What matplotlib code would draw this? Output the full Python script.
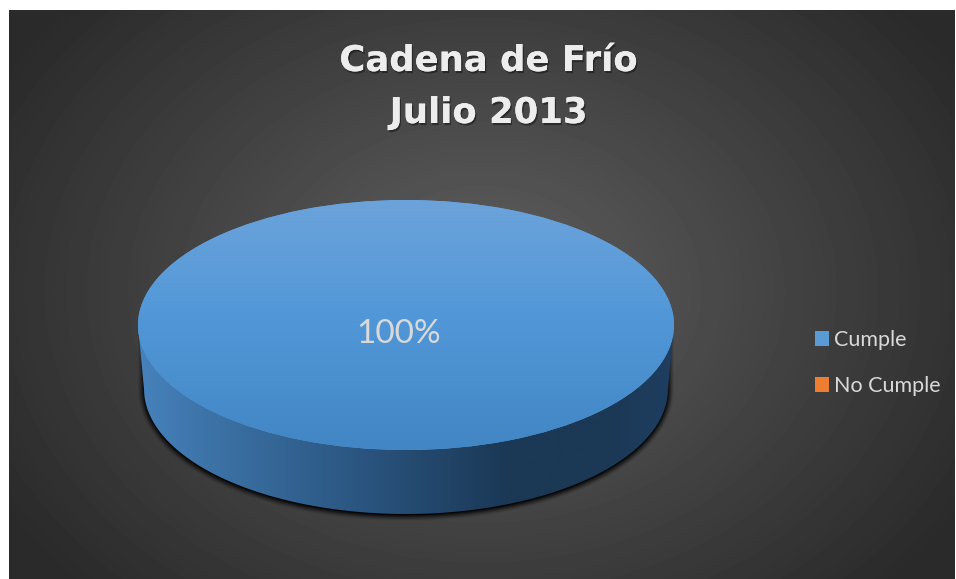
import numpy as np
import matplotlib
matplotlib.use("Agg")
import matplotlib.pyplot as plt
import matplotlib.patheffects as pe
from matplotlib.patches import PathPatch, Patch
from matplotlib.path import Path

categories = ["Cumple", "No Cumple"]
values = [100, 0]
colors = ["#5B9BD5", "#ED7D31"]
title_lines = ["Cadena de Frío", "Julio 2013"]

W, H = 956, 579
CX, CY, RX, RY, DEPTH, RX_LOW = 406, 325, 268, 125, 64, 262
fig = plt.figure(figsize=(W / 100, H / 100), dpi=100, facecolor="white")

# pixel-coordinate canvas
bg = fig.add_axes([0, 0, 1, 1])
bg.axis("off")

# radial dark background
L, T, R, B = 9, 10, 955, 579
yy, xx = np.mgrid[T:B, L:R]
d = np.sqrt(((xx - 482) / 560) ** 2 + ((yy - 290) / 430) ** 2)
g = np.clip(0.375 - 0.21 * np.clip(d, 0, 1), 0, 1)
bg.imshow(g, extent=(L, R, B, T), cmap="gray", vmin=0, vmax=1, aspect="auto", zorder=0,
          interpolation="bilinear")

# disc side outline: straight top edge, lower half of a slightly narrower ellipse
th = np.linspace(np.pi, 0, 181)
ell_x = CX + RX_LOW * np.cos(th)
ell_y = CY + DEPTH + RY * np.sin(th)
side = Path(np.c_[np.r_[CX - RX, ell_x, CX + RX], np.r_[CY, ell_y, CY]])

# soft shadow: a shape tucked under the disc, stroked with widening, faint black
shadow_path = Path(np.c_[np.r_[CX - RX_LOW, ell_x, CX + RX_LOW], np.r_[CY + 12, ell_y + 1, CY + 12]])
for grow, a in zip(np.arange(6, 0, -1), [.06, .1, .14, .2, .28, .38]):
    bg.add_patch(PathPatch(shadow_path, fc="black", ec="black", lw=grow * 1.44, alpha=a, zorder=1,
                           joinstyle="round"))

# side fill with horizontal shading
stops_x = np.array([CX - RX, CX - 200, CX - 60, CX + 100, CX + 200, CX + RX])
stops_c = np.array([[0x46, 0x82, 0xBC], [0x3D, 0x74, 0xA8], [0x2C, 0x58, 0x84],
                    [0x1B, 0x38, 0x56], [0x1B, 0x38, 0x55], [0x1F, 0x3E, 0x60]]) / 255
xs = np.arange(CX - RX, CX + RX + 1)
grad = np.stack([np.interp(xs, stops_x, stops_c[:, i]) for i in range(3)], axis=-1)[None, :, :]
im = bg.imshow(grad, extent=(CX - RX, CX + RX, CY + DEPTH + RY, CY), aspect="auto", zorder=2)
im.set_clip_path(PathPatch(side, transform=bg.transData))
bg.set_xlim(0, W)
bg.set_ylim(H, 0)

# pie axes: stretched so the unit circle fills the disc top
ax = fig.add_axes([(CX - RX) / W, 1 - (CY + RY) / H, 2 * RX / W, 2 * RY / H])
ax.patch.set_alpha(0)
wedges, _ = ax.pie(values, colors=colors, startangle=90, counterclock=False, radius=1,
                   wedgeprops=dict(linewidth=0))
ax.set_aspect("auto")
ax.axis("off")

# vertical sheen over the pie top
vs = np.linspace(0, 1, 128)
top_c = np.array([0x6C, 0xA3, 0xDB]) / 255
mid_c = np.array([0x52, 0x98, 0xD8]) / 255
bot_c = np.array([0x42, 0x86, 0xC4]) / 255
col = np.stack([np.interp(vs, [0, .45, 1], [top_c[i], mid_c[i], bot_c[i]]) for i in range(3)], axis=-1)[:, None, :]
im2 = ax.imshow(col, extent=(-1, 1, -1, 1), aspect="auto", zorder=3, interpolation="bilinear")
im2.set_clip_path(wedges[0])
ax.set_xlim(-1, 1)
ax.set_ylim(-1, 1)

share = values[0] / sum(values) * 100
ax.text(-0.026, -0.07, f"{share:.0f}%", ha="center", va="center", fontsize=24,
        family="Lato", color="#D9D9D9", zorder=5)

# title
shadow = [pe.withSimplePatchShadow(offset=(1, -1.5), shadow_rgbFace="black", alpha=0.4), pe.Normal()]
for line, y in zip(title_lines, [61, 113]):
    fig.text(488.5 / W, 1 - y / H, line, ha="center", va="center", fontsize=25.5, fontweight="bold",
             family="DejaVu Sans", color="#EDEDED", path_effects=shadow)

# legend
handles = [Patch(facecolor=c, edgecolor="none") for c in colors]
leg = fig.legend(handles, categories, loc="center left", bbox_to_anchor=(815 / W, 1 - 363 / H),
                 frameon=False, fontsize=15.5, labelcolor="#D9D9D9",
                 handlelength=0.65, handleheight=0.65, handletextpad=0.25, labelspacing=1.2,
                 borderpad=0, borderaxespad=0)
for txt in leg.get_texts():
    txt.set_family("Lato")

fig.savefig("out.png", dpi=100, facecolor="white")
